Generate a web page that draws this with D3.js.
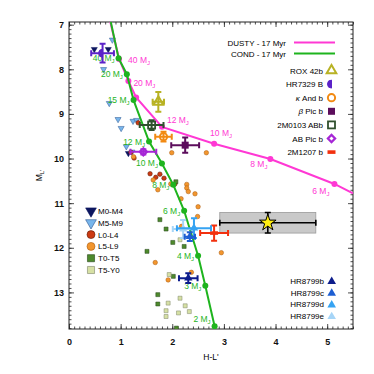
<!DOCTYPE html>
<html>
<head>
<meta charset="utf-8">
<script src="https://cdn.jsdelivr.net/npm/d3@7"></script>
<style>
  body { margin: 0; background: #fff; }
  svg { font-family: "Liberation Sans", Arial, sans-serif; }
</style>
</head>
<body>
<svg width="374" height="374"></svg>
<script>
// evolutionary tracks, 17 Myr (mass in MJup, null = no dot)
const dustyMass = [null, 40, 20, 15, 12, 10, 8, 6, null];
const dustyX = [0.80, 0.97, 1.15, 1.30, 1.80, 2.81, 3.90, 5.14, 5.50];
const dustyY = [6.94, 7.77, 8.26, 8.63, 9.29, 9.67, 10.01, 10.57, 10.78];

const condMass = [null, 40, 20, 15, 12, 10, 8, 6, 4, 3, 2];
const condX = [0.81, 0.96, 1.12, 1.25, 1.55, 1.80, 2.02, 2.23, 2.50, 2.64, 2.82];
const condY = [6.94, 7.75, 8.11, 8.69, 9.62, 10.11, 10.59, 11.17, 12.18, 12.85, 13.76];

// field objects [H-L', M_L']
const fieldM0M4 = [[0.49, 7.55], [0.76, 7.55], [1.15, 9.88]];
const fieldM5M9 = [[0.84, 7.34], [0.67, 8.00], [0.78, 8.76], [0.95, 9.12], [1.24, 9.16],
  [1.01, 9.32], [1.31, 9.14], [1.11, 9.73], [1.22, 9.85]];
const fieldL0L4 = [[1.34, 9.20], [1.20, 9.86], [1.26, 9.99], [1.57, 10.34], [1.76, 10.35],
  [1.84, 10.44], [1.68, 10.42], [2.05, 10.57]];
const fieldL5L9 = [[1.25, 9.96], [1.99, 9.87], [2.66, 9.87], [1.63, 10.48], [1.97, 10.57],
  [2.28, 10.58], [2.28, 10.66], [1.72, 10.70], [2.31, 10.74], [2.17, 10.90], [2.44, 10.79],
  [2.50, 11.08], [2.49, 11.30], [2.18, 11.52], [2.95, 12.11], [1.67, 12.33], [2.37, 12.55],
  [1.92, 12.72]];
const fieldT0T5 = [[2.07, 10.52], [1.76, 11.37], [1.88, 11.58], [2.01, 11.88], [2.23, 11.97],
  [1.51, 12.08], [1.72, 13.05], [1.72, 13.26], [2.02, 12.64], [2.08, 13.80]];
const fieldT5Y0 = [[2.15, 11.82], [1.94, 12.60], [2.15, 13.13], [1.92, 13.24], [2.25, 13.30],
  [2.33, 13.43], [2.12, 13.46], [1.88, 13.41], [1.88, 13.54]];

// young companions with error bars
const compNames = ['ROX 42b', 'HR7329 B', 'κ And b', 'β Pic b', '2M0103 ABb', 'AB Pic b', '2M1207 b'];
const compX = [1.73, 0.65, 1.83, 2.25, 1.60, 1.44, 2.81];
const compY = [8.73, 7.64, 9.51, 9.70, 9.25, 9.85, 11.67];
const compXerr = [0.11, 0.22, 0.16, 0.27, 0.23, 0.25, 0.27];
const compYerr = [0.22, 0.21, 0.11, 0.17, 0.11, 0.06, 0.17];

const hrNames = ['HR8799b', 'HR8799c', 'HR8799d', 'HR8799e'];
const hrX = [2.31, 2.34, 2.42, 2.21];
const hrY = [12.68, 11.75, 11.56, 11.58];
const hrXerr = [0.18, 0.10, 0.33, 0.20];
const hrYerr = [0.11, 0.10, 0.22, 0.20];

// the starred object
const starX = 3.85, starY = 11.44, starXerr = 0.93, starYerr = 0.23;

const xTicks = [0, 1, 2, 3, 4, 5];
const yTicks = [7, 8, 9, 10, 11, 12, 13];

const svg = d3.select('svg');
const margin = {top: 22, left: 69};
const innerWidth = 284;
const innerHeight = 307;

const magenta = '#ff38d4';
const green = '#1eb41e';

const x = d3.scaleLinear().domain([0, 5.5]).range([0, innerWidth]);
const y = d3.scaleLinear().domain([6.94, 13.82]).range([0, innerHeight]);

const g = svg.append('g').attr('transform', `translate(${margin.left},${margin.top})`);

svg.append('defs').append('clipPath').attr('id', 'clip')
  .append('rect').attr('width', innerWidth).attr('height', innerHeight);

// axes: inward major + minor ticks on all four sides
const xMinor = d3.range(0, 56).map(i => i / 10);
const yMinor = d3.range(70, 139).map(i => i / 10);

const axes = [
  [d3.axisBottom(x), `translate(0,${innerHeight})`, xTicks, xMinor, 10],
  [d3.axisTop(x), 'translate(0,0)', xTicks, xMinor, 0],
  [d3.axisLeft(y), 'translate(0,0)', yTicks, yMinor, 5],
  [d3.axisRight(y), `translate(${innerWidth},0)`, yTicks, yMinor, 0]
];
axes.forEach(([ax, tr, major, minor, pad]) => {
  const minorG = g.append('g').attr('transform', tr)
    .call(ax.tickValues(minor).tickSize(-2.5));
  minorG.select('.domain').remove();
  minorG.selectAll('text').remove();
  const majorG = g.append('g').attr('transform', tr)
    .call(ax.tickValues(major).tickSize(-5).tickPadding(pad).tickFormat(d3.format('d')));
  majorG.select('.domain').remove();
  if (!pad) majorG.selectAll('text').remove();
  majorG.selectAll('text').attr('font-size', 9).attr('font-weight', 'bold')
    .attr('font-family', '"Liberation Sans", Arial, sans-serif').attr('fill', '#111');
  g.selectAll('.tick line').attr('stroke', '#222').attr('stroke-width', 0.8);
});

g.append('rect').attr('width', innerWidth).attr('height', innerHeight)
  .attr('fill', 'none').attr('stroke', '#222').attr('stroke-width', 1);

g.append('text').attr('x', innerWidth / 2).attr('y', innerHeight + 31)
  .attr('text-anchor', 'middle').attr('font-size', 8.5).text("H-L'");

const yl = g.append('text').attr('transform', `translate(-27,${innerHeight / 2}) rotate(-90)`)
  .attr('text-anchor', 'middle').attr('font-size', 8.5);
yl.append('tspan').text('M');
yl.append('tspan').attr('font-size', 6).attr('dy', 2).text("L'");

// field symbols
const sym = (type, size) => d3.symbol().type(type).size(size)();
const fieldStyles = [
  {label: 'M0-M4', data: fieldM0M4, type: d3.symbolTriangle, rot: 180, fill: '#0c1660', stroke: '#0c1660'},
  {label: 'M5-M9', data: fieldM5M9, type: d3.symbolTriangle, rot: 180, fill: '#78b6ec', stroke: '#2d5690'},
  {label: 'L0-L4', data: fieldL0L4, type: d3.symbolCircle, rot: 0, fill: '#cc3a12', stroke: '#5a1a05'},
  {label: 'L5-L9', data: fieldL5L9, type: d3.symbolCircle, rot: 0, fill: '#f2962e', stroke: '#a85a10'},
  {label: 'T0-T5', data: fieldT0T5, type: d3.symbolSquare, rot: 0, fill: '#4e8a2c', stroke: '#25451a'},
  {label: 'T5-Y0', data: fieldT5Y0, type: d3.symbolSquare, rot: 0, fill: '#d6e0a4', stroke: '#7d8468'}
];

const plot = g.append('g').attr('clip-path', 'url(#clip)');

fieldStyles.forEach(s => {
  plot.selectAll(null).data(s.data).enter().append('path')
    .attr('d', sym(s.type, 16))
    .attr('transform', d => `translate(${x(d[0])},${y(d[1])}) rotate(${s.rot})`)
    .attr('fill', s.fill).attr('stroke', s.stroke).attr('stroke-width', 0.5);
});

// tracks
const line = d3.line().x(d => x(d.x)).y(d => y(d.y));
const dusty = dustyX.map((v, i) => ({x: v, y: dustyY[i], m: dustyMass[i]}));
const cond = condX.map((v, i) => ({x: v, y: condY[i], m: condMass[i]}));

[[dusty, magenta], [cond, green]].forEach(([data, col]) => {
  plot.append('path').datum(data).attr('d', line)
    .attr('fill', 'none').attr('stroke', col).attr('stroke-width', 2);
  plot.selectAll(null).data(data.filter(d => d.m)).enter().append('circle')
    .attr('cx', d => x(d.x)).attr('cy', d => y(d.y)).attr('r', 3).attr('fill', col);
});

const massLabel = (sel, d, col, anchor, dx, dy) => {
  const t = sel.append('text').attr('x', x(d.x) + dx).attr('y', y(d.y) + dy)
    .attr('text-anchor', anchor).attr('font-size', 8.5).attr('fill', col);
  t.append('tspan').text(`${d.m} M`);
  t.append('tspan').attr('font-size', 6).attr('dy', 2).text('J');
};

const dustyLabelPos = {40: ['start', 9, 4], 20: ['start', 5, 5], 12: ['start', 5, -4],
  10: ['start', -4, -8], 8: ['end', -3, 8], 6: ['end', -5, 10]};
dusty.filter(d => dustyLabelPos[d.m]).forEach(d => {
  const [a, dx, dy] = dustyLabelPos[d.m];
  massLabel(g, d, magenta, a, dx, dy);
});
cond.filter(d => d.m).forEach(d => massLabel(g, d, green, 'end', -4, d.m === 2 ? -4 : 3));

// error bars
const errBar = (cx, cy, xe, ye, col, w) => {
  const eg = g.append('g').attr('stroke', col).attr('stroke-width', w).attr('fill', 'none');
  const x0 = x(cx - xe), x1 = x(cx + xe), y0 = y(cy - ye), y1 = y(cy + ye);
  const px = x(cx), py = y(cy), c = 3;
  eg.append('path').attr('d',
    `M${x0},${py}H${x1}M${x0},${py - c}V${py + c}M${x1},${py - c}V${py + c}` +
    `M${px},${y0}V${y1}M${px - c},${y0}H${px + c}M${px - c},${y1}H${px + c}`);
  return eg;
};

// star with grey uncertainty box
g.append('rect')
  .attr('x', x(starX - starXerr)).attr('y', y(starY - starYerr))
  .attr('width', x(starX + starXerr) - x(starX - starXerr))
  .attr('height', y(starY + starYerr) - y(starY - starYerr))
  .attr('fill', '#c9c9c9').attr('stroke', '#9a9a9a').attr('stroke-width', 0.8);
errBar(starX, starY, starXerr, starYerr, '#000', 1.6);
g.append('path').attr('d', sym(d3.symbolStar, 85))
  .attr('transform', `translate(${x(starX)},${y(starY)})`)
  .attr('fill', '#ffee10').attr('stroke', '#000').attr('stroke-width', 1);

// companion markers
const compColors = ['#b8b224', '#5b22c8', '#f28a12', '#5c0d5c', '#30502e', '#a626d6', '#f2300e'];
const halfCircle = r => `M0,${-r}A${r},${r} 0 0 0 0,${r}Z`;
const compMarker = (sel, i, size) => {
  const col = compColors[i];
  const k = size / 7;
  if (i === 0) sel.append('path').attr('d', sym(d3.symbolTriangle, 40 * k * k))
    .attr('fill', 'none').attr('stroke', col).attr('stroke-width', 2);
  if (i === 1) sel.append('path').attr('d', halfCircle(4 * k)).attr('fill', col)
    .attr('stroke', col).attr('stroke-width', 1);
  if (i === 2) sel.append('circle').attr('r', 3.6 * k)
    .attr('fill', 'none').attr('stroke', col).attr('stroke-width', 2);
  if (i === 3) sel.append('rect').attr('x', -3.5 * k).attr('y', -3.5 * k)
    .attr('width', 7 * k).attr('height', 7 * k).attr('fill', col);
  if (i === 4) sel.append('rect').attr('x', -3.5 * k).attr('y', -3.5 * k)
    .attr('width', 7 * k).attr('height', 7 * k).attr('fill', 'none')
    .attr('stroke', col).attr('stroke-width', 1.8);
  if (i === 5) sel.append('path').attr('d', sym(d3.symbolSquare, 26 * k * k))
    .attr('transform', 'rotate(45)').attr('fill', 'none')
    .attr('stroke', col).attr('stroke-width', 2.2);
  if (i === 6) sel.append('rect').attr('x', -4 * k).attr('y', -1.8 * k)
    .attr('width', 8 * k).attr('height', 3.6 * k).attr('fill', col);
};

compNames.forEach((n, i) => {
  errBar(compX[i], compY[i], compXerr[i], compYerr[i], compColors[i], 2);
  compMarker(g.append('g').attr('transform', `translate(${x(compX[i])},${y(compY[i])})`), i, 7);
});

const hrColors = ['#0d1d8c', '#1d5ed2', '#36a3f2', '#a6d5f7'];
[3, 2, 1, 0].forEach(i => {
  errBar(hrX[i], hrY[i], hrXerr[i], hrYerr[i], hrColors[i], 2);
  g.append('path').attr('d', sym(d3.symbolTriangle, 30))
    .attr('transform', `translate(${x(hrX[i])},${y(hrY[i])})`).attr('fill', hrColors[i]);
});

// legends (svg coordinates)
const leg = svg.append('g').attr('font-size', 8);

[['DUSTY - 17 Myr', magenta], ['COND - 17 Myr', green]].forEach(([t, col], i) => {
  const ly = 42.5 + i * 11;
  leg.append('text').attr('x', 286).attr('y', ly + 3).attr('text-anchor', 'end').text(t);
  leg.append('line').attr('x1', 294).attr('x2', 335).attr('y1', ly).attr('y2', ly)
    .attr('stroke', col).attr('stroke-width', 2);
});

compNames.forEach((n, i) => {
  const ly = 70.5 + i * 13.6;
  const t = leg.append('text').attr('x', 323).attr('y', ly + 3).attr('text-anchor', 'end');
  if (n[0] === 'κ' || n[0] === 'β') {
    t.append('tspan').attr('font-style', 'italic').text(n[0]);
    t.append('tspan').text(n.slice(1));
  } else t.text(n);
  compMarker(leg.append('g').attr('transform', `translate(331.5,${ly})`), i, 7);
});

hrNames.forEach((n, i) => {
  const ly = 281 + i * 11.7;
  leg.append('text').attr('x', 324).attr('y', ly + 3).attr('text-anchor', 'end').text(n);
  leg.append('path').attr('d', sym(d3.symbolTriangle, 32))
    .attr('transform', `translate(331.7,${ly + 0.5})`).attr('fill', hrColors[i]);
});

fieldStyles.forEach((s, i) => {
  const ly = 211 + i * 11.8;
  leg.append('path').attr('d', sym(s.type, 50))
    .attr('transform', `translate(91,${ly}) rotate(${s.rot})`)
    .attr('fill', s.fill).attr('stroke', s.stroke).attr('stroke-width', 0.6);
  leg.append('text').attr('x', 98).attr('y', ly + 3).text(s.label);
});
</script>
</body>
</html>
